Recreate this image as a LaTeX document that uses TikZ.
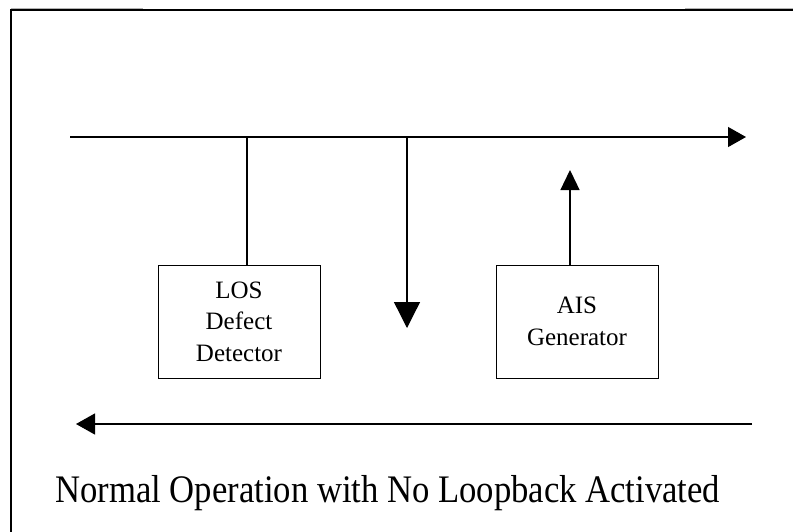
\documentclass[tikz,border=0pt]{standalone}
\usepackage{fontspec}
\setmainfont{Liberation Serif}
\usetikzlibrary{arrows.meta}
\begin{document}
\begin{tikzpicture}[x=1pt,y=-1pt,
  frame/.style={line width=1.6pt,black},
  wire/.style={line width=1.3pt,black},
  block/.style={draw,line width=1pt,minimum width=162pt,minimum height=113pt,
    inner sep=0pt,align=center,font=\fontsize{25}{31.5}\selectfont},
  headR/.style={-{Triangle[length=18pt,width=20pt]}},
  headD/.style={-{Triangle[length=26pt,width=26pt]}},
  headU/.style={-{Triangle[length=20pt,width=19pt]}},
  headL/.style={-{Triangle[length=19pt,width=21pt]}}]
\useasboundingbox (0,0) rectangle (793,531);
\fill[white] (0,0) rectangle (793,531);
\begin{scope}
\clip (0,0) rectangle (793,531);
% outer frame, open to the right and bottom
\draw[frame] (11,540) -- (11,10) -- (800,10);
\draw[gray!60,line width=0.8pt] (11,8.4) -- (143,8.4);
\draw[gray!60,line width=0.8pt] (685,8.4) -- (793,8.4);
\end{scope}

% blocks
\node[block] (los) at (239,321.5) {LOS\\Defect\\Detector};
\node[block] (ais) at (577,321.5) {AIS\\Generator};

% top (forward) path
\coordinate (fwdIn) at (70,137);
\coordinate (fwdOut) at (746,137);
\coordinate (tapLos) at (247,137);
\coordinate (tapDrop) at (407,137);
\coordinate (dropEnd) at (407,328);
\coordinate (aisTip) at (570,170);
\draw[wire,headR] (fwdIn) -- (fwdOut);
\draw[wire] (tapLos) -- (los.north -| tapLos);
\draw[wire,headD] (tapDrop) -- (dropEnd);
\draw[wire,headU] (ais.north -| aisTip) -- (aisTip);

% bottom (return) path
\coordinate (retIn) at (752,424);
\coordinate (retOut) at (76,424);
\draw[wire,headL] (retIn) -- (retOut);

% caption
\node[anchor=base west,inner sep=0pt] (caption) at (55,502)
  {\resizebox{665pt}{\height}{\fontsize{39}{40}\selectfont Normal Operation with No Loopback Activated}};
\end{tikzpicture}
\end{document}
